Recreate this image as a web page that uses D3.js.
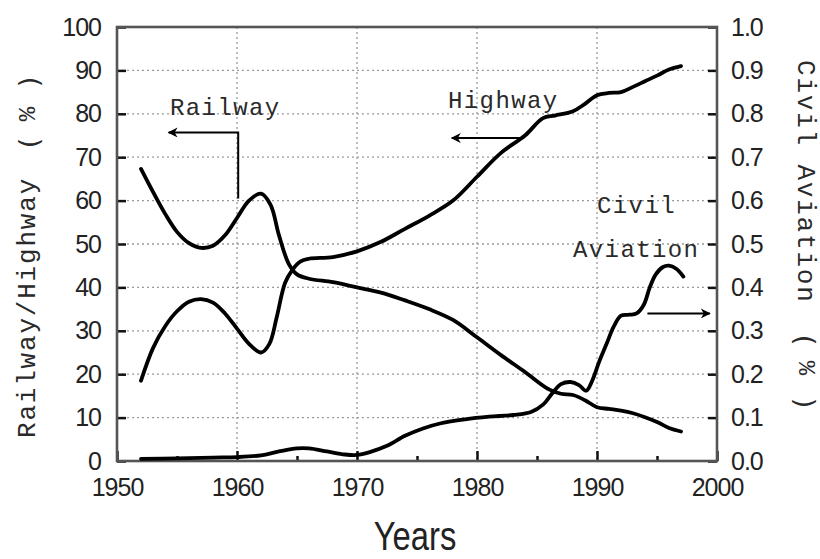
<!DOCTYPE html>
<html>
<head>
<meta charset="utf-8">
<script src="https://cdn.jsdelivr.net/npm/d3@7"></script>
<style>
  html, body { margin: 0; padding: 0; background: #fff; }
  svg { display: block; }
</style>
</head>
<body>
<svg id="chart" width="820" height="559"></svg>
<script>
// Railway share of passenger transport (left axis, %)
const railYears  = [1952, 1953, 1954, 1955, 1956, 1957, 1958, 1959, 1960, 1961, 1962, 1962.8, 1963.5, 1964.3, 1965, 1966, 1968, 1970, 1972, 1974, 1976, 1978, 1980, 1982, 1984, 1986, 1987, 1988, 1989, 1990, 1991, 1992, 1993, 1994, 1995, 1996, 1997];
const railValues = [67.3, 62, 57, 52.8, 50.2, 49.1, 49.6, 52, 56, 60, 61.6, 59, 52, 45.5, 43, 42, 41.2, 40, 38.8, 37, 35, 32.5, 28.5, 24.4, 20.5, 16.5, 15.5, 15.2, 14, 12.4, 12, 11.6, 11, 10.1, 9, 7.6, 6.8];

// Highway share (left axis, %)
const hwyYears  = [1952, 1953, 1954, 1955, 1956, 1957, 1958, 1959, 1960, 1961, 1962, 1962.7, 1963.3, 1964, 1964.6, 1965.3, 1966, 1968, 1970, 1972, 1974, 1976, 1978, 1980, 1982, 1984, 1985.5, 1986.5, 1988, 1989, 1990, 1991, 1992, 1993, 1994, 1995, 1996, 1997];
const hwyValues = [18.5, 26, 31, 34.5, 36.7, 37.3, 36.5, 34, 30.5, 27, 25, 27, 33, 41, 44, 46, 46.6, 47, 48.3, 50.5, 53.5, 56.5, 60, 65.5, 71, 75, 79, 79.6, 80.6, 82.3, 84.3, 84.8, 85, 86.2, 87.5, 88.8, 90.2, 91];

// Civil aviation share (right axis, %)
const civilYears  = [1952, 1955, 1958, 1960, 1962, 1963.5, 1965, 1966, 1967.5, 1969, 1970, 1971, 1972.5, 1974, 1975.5, 1977, 1979, 1981, 1983, 1984.5, 1985.5, 1986.3, 1987, 1987.8, 1988.5, 1989.1, 1989.6, 1990.2, 1990.8, 1991.4, 1992, 1992.7, 1993.3, 1993.9, 1994.4, 1994.9, 1995.5, 1996, 1996.6, 1997.2];
const civilValues = [0.005, 0.006, 0.008, 0.009, 0.013, 0.022, 0.029, 0.029, 0.022, 0.015, 0.014, 0.02, 0.035, 0.058, 0.075, 0.087, 0.096, 0.102, 0.106, 0.113, 0.13, 0.157, 0.177, 0.182, 0.175, 0.162, 0.185, 0.23, 0.27, 0.31, 0.335, 0.337, 0.34, 0.36, 0.40, 0.43, 0.447, 0.45, 0.443, 0.425];

// Axis ticks
const xTicks      = [1950, 1960, 1970, 1980, 1990, 2000];
const xMinorTicks = [1955, 1965, 1975, 1985, 1995];
const leftTicks   = [0, 10, 20, 30, 40, 50, 60, 70, 80, 90, 100];
const rightTicks  = [0, 0.1, 0.2, 0.3, 0.4, 0.5, 0.6, 0.7, 0.8, 0.9, 1.0];

const svg = d3.select("#chart");
const L = 117, R = 717, T = 27, B = 461;

const x  = d3.scaleLinear().domain([1950, 2000]).range([L, R]);
const yL = d3.scaleLinear().domain([0, 100]).range([B, T]);
const yR = d3.scaleLinear().domain([0, 1]).range([B, T]);

const numFont = "'Liberation Sans', Arial, sans-serif";
const serifMono = "'Liberation Mono', monospace";
const textColor = "#2a2a2a";

// dotted grid
const grid = svg.append("g").attr("stroke", "#9a9a9a").attr("stroke-width", 1.3).attr("stroke-dasharray", "2,3");
grid.selectAll("line.h").data(leftTicks.slice(1, -1)).join("line")
  .attr("x1", L).attr("x2", R).attr("y1", d => yL(d)).attr("y2", d => yL(d));
grid.selectAll("line.v").data(xTicks.slice(1, -1)).join("line")
  .attr("y1", T).attr("y2", B).attr("x1", d => x(d)).attr("x2", d => x(d));

// axes
function styleAxis(g) {
  g.select(".domain").remove();
  g.selectAll(".tick line").attr("stroke", "#111").attr("stroke-width", 2.5);
  g.selectAll("text").attr("font-family", numFont).attr("font-size", 25)
    .attr("letter-spacing", -1).attr("fill", "#222");
}

svg.append("g").attr("transform", `translate(${L},0)`)
  .call(d3.axisLeft(yL).tickValues(leftTicks).tickSize(-9).tickPadding(16).tickFormat(d3.format("d")))
  .call(styleAxis);

svg.append("g").attr("transform", `translate(${R},0)`)
  .call(d3.axisRight(yR).tickValues(rightTicks).tickSize(-9).tickPadding(14).tickFormat(d3.format(".1f")))
  .call(styleAxis);

svg.append("g").attr("transform", `translate(0,${B})`)
  .call(d3.axisBottom(x).tickValues(xTicks).tickSize(-10).tickPadding(17).tickFormat(d3.format("d")))
  .call(styleAxis);

svg.append("g").attr("transform", `translate(0,${B})`)
  .call(d3.axisBottom(x).tickValues(xMinorTicks).tickSize(-5).tickFormat(""))
  .call(styleAxis);

// frame
svg.append("rect").attr("x", L).attr("y", T).attr("width", R - L).attr("height", B - T)
  .attr("fill", "none").attr("stroke", "#555").attr("stroke-width", 2.6);

// series
const lineL = d3.line().x(d => x(d[0])).y(d => yL(d[1])).curve(d3.curveCatmullRom.alpha(0.5));
const lineR = d3.line().x(d => x(d[0])).y(d => yR(d[1])).curve(d3.curveCatmullRom.alpha(0.5));

const series = [
  { pts: d3.zip(railYears, railValues), gen: lineL },
  { pts: d3.zip(hwyYears, hwyValues), gen: lineL },
  { pts: d3.zip(civilYears, civilValues), gen: lineR }
];
svg.append("g").selectAll("path").data(series).join("path")
  .attr("d", s => s.gen(s.pts))
  .attr("fill", "none").attr("stroke", "#000").attr("stroke-width", 3.8)
  .attr("stroke-linejoin", "round").attr("stroke-linecap", "round");

// arrow marker
svg.append("defs").append("marker")
  .attr("id", "arrow").attr("viewBox", "0 0 10 10").attr("refX", 9).attr("refY", 5)
  .attr("markerWidth", 7).attr("markerHeight", 5).attr("orient", "auto-start-reverse")
  .attr("markerUnits", "strokeWidth")
  .append("path").attr("d", "M0,0 L10,5 L0,10 L3,5 Z").attr("fill", "#000");

const ann = svg.append("g").attr("fill", textColor).attr("font-family", serifMono)
  .attr("font-size", 24).attr("letter-spacing", 1.4);

ann.append("text").attr("x", 170).attr("y", 115).text("Railway");
ann.append("text").attr("x", 448).attr("y", 108).text("Highway");
ann.append("text").attr("x", 597).attr("y", 213).text("Civil");
ann.append("text").attr("x", 573).attr("y", 257).text("Aviation");

const arrows = svg.append("g").attr("fill", "none").attr("stroke", "#000").attr("stroke-width", 2);
// Railway pointer: up from the curve, then left toward the left axis
arrows.append("path").attr("d", `M${x(1960.1)},${yL(60.5)} V${yL(75.7)} H${x(1954.3)}`)
  .attr("marker-end", "url(#arrow)");
// Highway pointer: toward the left axis
arrows.append("path").attr("d", `M${x(1983.8)},${yL(74.4)} H${x(1977.9)}`)
  .attr("marker-end", "url(#arrow)");
// Civil Aviation pointer: toward the right axis
arrows.append("path").attr("d", `M${x(1994.2)},${yR(0.34)} H${x(1999.4)}`)
  .attr("marker-end", "url(#arrow)");

// axis titles: latin run in monospace, unit "( % )" spaced out after it
function verticalTitle(cx, angle, label, labelStart, unitCenters) {
  const g = svg.append("g").attr("fill", textColor);
  // rotated frame: +x runs along the reading direction
  const along = y => angle < 0 ? -y : y;
  const rot = g.append("g").attr("transform", `translate(${cx},0) rotate(${angle})`);
  rot.append("text").attr("x", along(labelStart)).attr("y", 0)
    .attr("dominant-baseline", "central")
    .attr("font-family", serifMono).attr("font-size", 26).attr("letter-spacing", 1.8)
    .text(label);
  const unit = ["(", "%", ")"];
  rot.selectAll("text.unit").data(unit).join("text")
    .attr("class", "unit")
    .attr("x", (d, i) => along(unitCenters[i])).attr("y", 0)
    .attr("text-anchor", "middle").attr("dominant-baseline", "central")
    .attr("font-family", (d, i) => i === 1 ? serifMono : "'DejaVu Sans', sans-serif")
    .attr("font-size", (d, i) => i === 1 ? 24 : 27)
    .text(d => d);
}
verticalTitle(28, -90, "Railway/Highway", 438, [143, 114, 82]);
verticalTitle(805, 90, "Civil Aviation", 60, [340, 368, 403]);

svg.append("text").attr("transform", "translate(415,550) scale(0.82,1)")
  .attr("text-anchor", "middle")
  .attr("font-family", numFont).attr("font-size", 40)
  .attr("fill", "#222").text("Years");
</script>
</body>
</html>
